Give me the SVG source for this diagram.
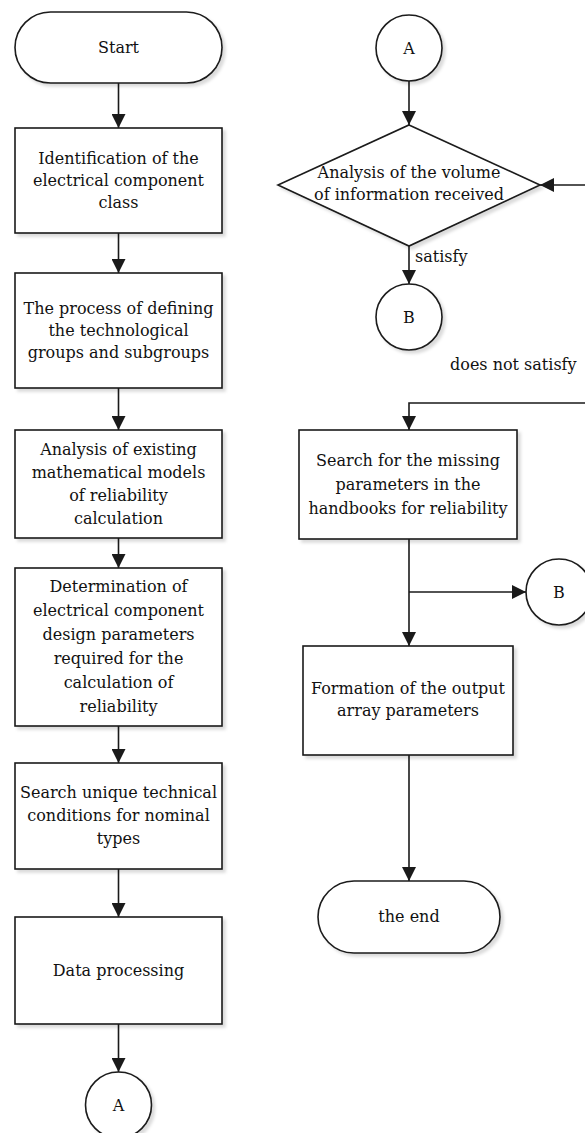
<svg xmlns="http://www.w3.org/2000/svg" width="585" height="1133" viewBox="0 0 585 1133">
<style>
.shape{fill:#fff;stroke:#1a1a1a;stroke-width:1.6;filter:url(#sh)}
.conn{fill:none;stroke:#1a1a1a;stroke-width:1.6}
text{font-family:"DejaVu Serif","Liberation Serif",serif;font-size:16px;fill:#111;text-anchor:middle}
.lbl{text-anchor:start}
</style>
<defs>
<filter id="sh" x="-10%" y="-10%" width="125%" height="125%">
<feDropShadow dx="3" dy="3" stdDeviation="1.5" flood-color="#000" flood-opacity="0.14"/>
</filter>
<marker id="arr" markerUnits="userSpaceOnUse" markerWidth="15" markerHeight="14" refX="14" refY="7" orient="auto">
<path d="M0,0 L14,7 L0,14 Z" fill="#1a1a1a"/>
</marker>
</defs>
<rect width="585" height="1133" fill="#fff"/>
<g id="connectors">
<path class="conn" d="M118.5,83 V128" marker-end="url(#arr)"/>
<path class="conn" d="M118.5,233 V273" marker-end="url(#arr)"/>
<path class="conn" d="M118.5,388 V430" marker-end="url(#arr)"/>
<path class="conn" d="M118.5,538 V568" marker-end="url(#arr)"/>
<path class="conn" d="M118.5,726 V763" marker-end="url(#arr)"/>
<path class="conn" d="M118.5,869 V917" marker-end="url(#arr)"/>
<path class="conn" d="M118.5,1024 V1072" marker-end="url(#arr)"/>
<path class="conn" d="M409,81 V125" marker-end="url(#arr)"/>
<path class="conn" d="M600,185 H540" marker-end="url(#arr)"/>
<path class="conn" d="M409,246 V284" marker-end="url(#arr)"/>
<path class="conn" d="M600,403 H409 V430" marker-end="url(#arr)"/>
<path class="conn" d="M409,539 V646" marker-end="url(#arr)"/>
<path class="conn" d="M409,592 H526" marker-end="url(#arr)"/>
<path class="conn" d="M409,755 V881" marker-end="url(#arr)"/>
<text class="lbl" x="415" y="262">satisfy</text>
<text class="lbl" x="450" y="370">does not satisfy</text>
</g>
<g id="start">
<rect class="shape" x="15" y="12" width="207" height="71" rx="35.5"/>
<text x="118.5" y="53">Start</text>
</g>
<g id="identification">
<rect class="shape" x="15" y="128" width="207" height="105"/>
<text x="118.5" y="164">Identification of the</text>
<text x="118.5" y="186">electrical component</text>
<text x="118.5" y="208">class</text>
</g>
<g id="groups">
<rect class="shape" x="15" y="273" width="207" height="115"/>
<text x="118.5" y="314">The process of defining</text>
<text x="118.5" y="336">the technological</text>
<text x="118.5" y="358">groups and subgroups</text>
</g>
<g id="models">
<rect class="shape" x="15" y="430" width="207" height="108"/>
<text x="118.5" y="455">Analysis of existing</text>
<text x="118.5" y="478">mathematical models</text>
<text x="118.5" y="501">of reliability</text>
<text x="118.5" y="524">calculation</text>
</g>
<g id="design">
<rect class="shape" x="15" y="568" width="207" height="158"/>
<text x="118.5" y="592">Determination of</text>
<text x="118.5" y="616">electrical component</text>
<text x="118.5" y="640">design parameters</text>
<text x="118.5" y="664">required for the</text>
<text x="118.5" y="688">calculation of</text>
<text x="118.5" y="712">reliability</text>
</g>
<g id="conditions">
<rect class="shape" x="15" y="763" width="207" height="106"/>
<text x="118.5" y="798">Search unique technical</text>
<text x="118.5" y="821">conditions for nominal</text>
<text x="118.5" y="844">types</text>
</g>
<g id="processing">
<rect class="shape" x="15" y="917" width="207" height="107"/>
<text x="118.5" y="976">Data processing</text>
</g>
<g id="connA1">
<circle class="shape" cx="118.5" cy="1105" r="33"/>
<text x="118.5" y="1111">A</text>
</g>
<g id="connA2">
<circle class="shape" cx="409" cy="48" r="33"/>
<text x="409" y="54">A</text>
</g>
<g id="decision">
<polygon class="shape" points="409,125 540,185 409,246 278,185"/>
<text x="409" y="178">Analysis of the volume</text>
<text x="409" y="200">of information received</text>
</g>
<g id="connB1">
<circle class="shape" cx="409" cy="317" r="33"/>
<text x="409" y="323">B</text>
</g>
<g id="handbooks">
<rect class="shape" x="299" y="430" width="218" height="109"/>
<text x="408" y="466">Search for the missing</text>
<text x="408" y="490">parameters in the</text>
<text x="408" y="514">handbooks for reliability</text>
</g>
<g id="connB2">
<circle class="shape" cx="559" cy="592" r="33"/>
<text x="559" y="598">B</text>
</g>
<g id="output">
<rect class="shape" x="303" y="646" width="210" height="109"/>
<text x="408" y="694">Formation of the output</text>
<text x="408" y="716">array parameters</text>
</g>
<g id="end">
<rect class="shape" x="318" y="881" width="182" height="72" rx="36"/>
<text x="409" y="922">the end</text>
</g>
</svg>
